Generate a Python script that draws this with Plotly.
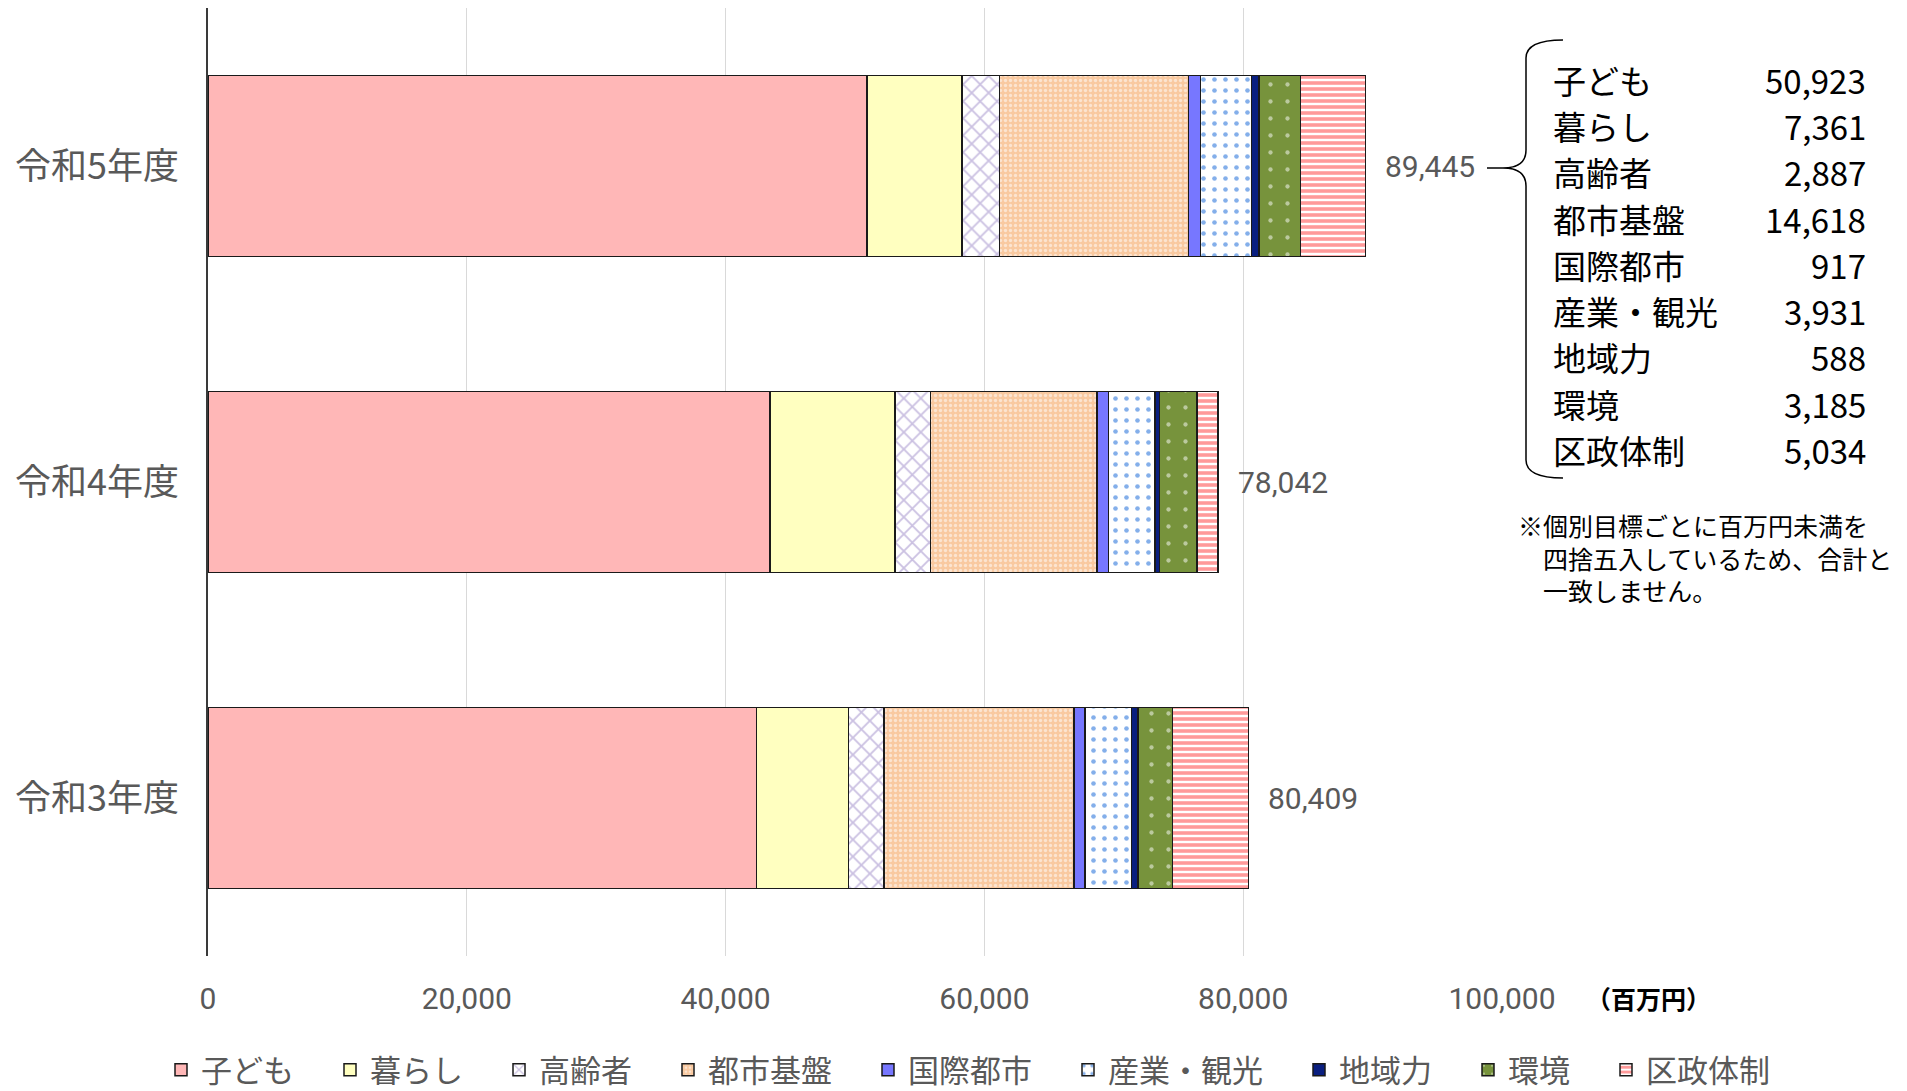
import plotly.graph_objects as go

# the page body has an 8px margin; the figure is sized so that it fits the 1907x1091 window
OFF = 8
W, H = 1907 - OFF, 1091 - OFF

categories = ["令和5年度", "令和4年度", "令和3年度"]
series_names = ["子ども", "暮らし", "高齢者", "都市基盤", "国際都市", "産業・観光", "地域力", "環境", "区政体制"]
r5_values = [50923, 7361, 2887, 14618, 917, 3931, 588, 3185, 5034]
r4_values = [43430, 9650, 2760, 12880, 870, 3580, 380, 2890, 1602]
r3_values = [42400, 7100, 2760, 14680, 830, 3590, 510, 2660, 5879]
totals = [89445, 78042, 80409]
x_ticks = [0, 20000, 40000, 60000, 80000, 100000]
unit_label = "（百万円）"
note_text = "※個別目標ごとに百万円未満を<br>\u3000四捨五入しているため、合計と<br>\u3000一致しません。"

styles = [
    dict(color="#FFB7B7"),
    dict(color="#FFFFC0"),
    dict(color="#FFFFFF", pattern=dict(shape="x", fgcolor="#9682C4", bgcolor="#FFFFFF", size=12, solidity=0.28)),
    dict(color="#F9CBA2", pattern=dict(shape=".", fgcolor="#FFFFFF", bgcolor="#F9C9A0", size=5, solidity=0.35)),
    dict(color="#7777FF"),
    dict(color="#FFFFFF", pattern=dict(shape=".", fgcolor="#0A5FD6", bgcolor="#FFFFFF", size=11, solidity=0.14)),
    dict(color="#0A1F80"),
    dict(color="#77933C", pattern=dict(shape=".", fgcolor="#FFFFFF", bgcolor="#77933C", size=17, solidity=0.05)),
    dict(color="#FFFFFF", pattern=dict(shape="-", fgcolor="#FF3535", bgcolor="#FFFFFF", size=6, solidity=0.6)),
]

# plot area in screen pixels
SL, SR, ST, SB = 208, 1502, 8, 956


def px(x):
    return (x - SL) / (SR - SL)


def py(y):
    return (SB - y) / (SB - ST)


fig = go.Figure()
for i, name in enumerate(series_names):
    vals = [r5_values[i], r4_values[i], r3_values[i]]
    marker = dict(line=dict(color="#1A1A1A", width=1.5))
    marker.update(styles[i])
    fig.add_trace(go.Bar(
        x=vals, y=categories, orientation="h", name=name + "\u3000",
        marker=marker, hoverinfo="x+name",
    ))

annotations = []
for cat, tot in zip(categories, totals):
    annotations.append(dict(
        x=tot, y=cat, xref="x", yref="y", xanchor="left", yanchor="middle",
        xshift=18, text=f"{tot:,}", showarrow=False,
        font=dict(family="Roboto, Noto Sans", size=30, color="#595959"),
    ))

# side table for 令和5年度
for i, (name, v) in enumerate(zip(series_names, r5_values)):
    yy = py(80 + 46.25 * i)
    annotations.append(dict(
        x=px(1551), y=yy, xref="paper", yref="paper", xanchor="left", yanchor="middle",
        text=name, showarrow=False,
        font=dict(family="Noto Sans CJK JP", size=33, color="#000000"),
    ))
    annotations.append(dict(
        x=px(1868), y=yy, xref="paper", yref="paper", xanchor="right", yanchor="middle",
        text=f"{v:,}", showarrow=False,
        font=dict(family="Noto Sans CJK JP", size=33, color="#000000"),
    ))

annotations.append(dict(
    x=px(1516), y=py(505), xref="paper", yref="paper", xanchor="left", yanchor="top",
    text=note_text, showarrow=False, align="left",
    font=dict(family="Noto Sans CJK JP", size=25, color="#000000"),
))
annotations.append(dict(
    x=px(1584), y=py(998), xref="paper", yref="paper", xanchor="left", yanchor="middle",
    text="<b>" + unit_label + "</b>", showarrow=False,
    font=dict(family="Noto Sans CJK JP", size=25, color="#000000"),
))


def P(x, y):
    return f"{px(x):.5f},{py(y):.5f}"


brace = (
    f"M{P(1563, 40)} Q{P(1526, 40)} {P(1526, 58)} L{P(1526, 150)} "
    f"Q{P(1526, 168)} {P(1503, 168)} Q{P(1526, 168)} {P(1526, 186)} "
    f"L{P(1526, 460)} Q{P(1526, 478)} {P(1563, 478)} "
    f"M{P(1487, 168)} L{P(1503, 168)}"
)

fig.update_layout(
    width=W, height=H,
    margin=dict(l=SL - OFF, r=W - (SR - OFF), t=ST - OFF, b=H - (SB - OFF), pad=0, autoexpand=False),
    paper_bgcolor="white", plot_bgcolor="white",
    barmode="stack", bargap=0.427,
    font=dict(family="Noto Sans CJK JP", color="#595959"),
    xaxis=dict(
        range=[0, 100000], tickvals=x_ticks, tickformat=",d",
        showgrid=True, gridcolor="#D9D9D9", gridwidth=1, zeroline=False,
        showline=False, ticks="", ticklabelstandoff=22,
        tickfont=dict(family="Roboto, Noto Sans", size=30, color="#595959"),
    ),
    yaxis=dict(
        autorange="reversed", showgrid=False, zeroline=False,
        showline=True, linecolor="#3A3A3A", linewidth=1.5, ticks="",
        ticklabelstandoff=20,
        tickfont=dict(family="Noto Sans CJK JP", size=36, color="#595959"),
    ),
    legend=dict(
        orientation="h", x=px(1806), y=py(1070), xanchor="right", yanchor="middle",
        font=dict(family="Noto Sans CJK JP", size=31, color="#595959"),
        traceorder="normal", bgcolor="rgba(0,0,0,0)",
    ),
    annotations=annotations,
    shapes=[dict(type="path", path=brace, xref="paper", yref="paper",
                 line=dict(color="#000000", width=1.5))],
    showlegend=True,
)

fig.write_html("out.html")
